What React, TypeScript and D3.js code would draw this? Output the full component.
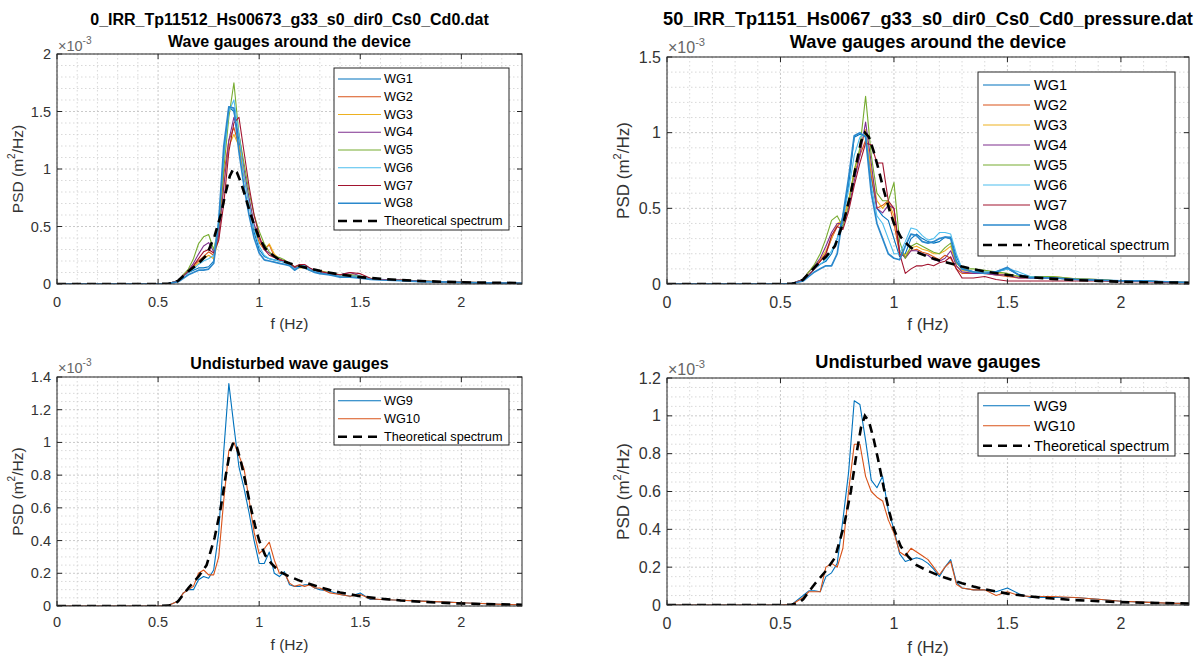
import React from 'react';
import * as d3 from 'd3';

// ---------- DATA (PSD values in units of 1e-3 m^2/Hz) ----------
const FREQ = [0, 0.5, 0.55, 0.6, 0.625,
  0.65, 0.675, 0.7, 0.725, 0.75,
  0.775, 0.8, 0.825, 0.85, 0.875,
  0.9, 0.925, 0.95, 0.975, 1.0,
  1.025, 1.05, 1.075, 1.1, 1.125,
  1.15, 1.175, 1.2, 1.225, 1.25,
  1.275, 1.3, 1.35, 1.4, 1.45,
  1.5, 1.55, 1.6, 1.7, 1.8,
  1.9, 2.0, 2.1, 2.2, 2.3];

const THEO_F = [0, 0.5, 0.55, 0.58, 0.6, 0.625, 0.65, 0.7, 0.74, 0.78, 0.81, 0.835, 0.855, 0.872, 0.89,
  0.91, 0.93, 0.955, 0.98, 1.0, 1.03, 1.06, 1.1, 1.15, 1.2, 1.25, 1.3, 1.35, 1.4, 1.5, 1.6, 1.7, 1.8, 1.9, 2.0, 2.1, 2.2, 2.3];
const THEO_PSD = [0, 0, 0.002, 0.01, 0.03, 0.07, 0.11, 0.18, 0.25, 0.42, 0.6, 0.8, 0.94, 1.0, 0.97,
  0.88, 0.77, 0.62, 0.49, 0.4, 0.31, 0.26, 0.21, 0.18, 0.155, 0.135, 0.115, 0.098, 0.083, 0.06, 0.045, 0.034, 0.026, 0.02, 0.015, 0.012, 0.01, 0.008];

// Top-left: 0_IRR_Tp11512_Hs00673 — WG1..WG8
const TL_WG1 = [0, 0, 0.003, 0.03, 0.07, 0.1, 0.12, 0.14, 0.14, 0.15, 0.2, 0.5, 1.1, 1.54, 1.5, 1.25, 0.95, 0.7, 0.45, 0.3, 0.24, 0.22, 0.21, 0.2, 0.19, 0.17, 0.13, 0.16, 0.16, 0.14, 0.11, 0.1, 0.08, 0.07, 0.07, 0.06, 0.04, 0.04, 0.03, 0.02, 0.018, 0.013, 0.01, 0.008, 0.006];
const TL_WG2 = [0, 0, 0.003, 0.03, 0.08, 0.12, 0.16, 0.2, 0.24, 0.28, 0.25, 0.45, 0.95, 1.25, 1.36, 1.2, 0.95, 0.72, 0.5, 0.36, 0.3, 0.34, 0.24, 0.21, 0.2, 0.18, 0.14, 0.15, 0.15, 0.12, 0.12, 0.11, 0.08, 0.07, 0.08, 0.07, 0.045, 0.04, 0.035, 0.025, 0.02, 0.015, 0.012, 0.009, 0.007];
const TL_WG3 = [0, 0, 0.003, 0.03, 0.08, 0.12, 0.15, 0.18, 0.22, 0.25, 0.22, 0.4, 0.85, 1.2, 1.3, 1.2, 0.95, 0.72, 0.5, 0.38, 0.3, 0.35, 0.26, 0.22, 0.2, 0.17, 0.13, 0.14, 0.14, 0.12, 0.11, 0.12, 0.09, 0.07, 0.06, 0.06, 0.05, 0.04, 0.035, 0.025, 0.02, 0.015, 0.012, 0.009, 0.007];
const TL_WG4 = [0, 0, 0.003, 0.03, 0.08, 0.12, 0.18, 0.26, 0.33, 0.36, 0.28, 0.42, 0.85, 1.25, 1.45, 1.3, 1.0, 0.75, 0.52, 0.4, 0.3, 0.27, 0.24, 0.22, 0.2, 0.18, 0.14, 0.16, 0.15, 0.13, 0.11, 0.1, 0.09, 0.08, 0.1, 0.07, 0.045, 0.04, 0.035, 0.025, 0.02, 0.015, 0.012, 0.009, 0.007];
const TL_WG5 = [0, 0, 0.003, 0.03, 0.08, 0.13, 0.22, 0.35, 0.41, 0.43, 0.3, 0.5, 1.0, 1.45, 1.75, 1.3, 1.05, 0.8, 0.6, 0.46, 0.35, 0.28, 0.24, 0.23, 0.21, 0.18, 0.15, 0.16, 0.15, 0.12, 0.12, 0.11, 0.1, 0.08, 0.08, 0.07, 0.05, 0.04, 0.035, 0.028, 0.02, 0.015, 0.012, 0.009, 0.007];
const TL_WG6 = [0, 0, 0.003, 0.03, 0.07, 0.1, 0.13, 0.17, 0.2, 0.22, 0.25, 0.55, 1.1, 1.5, 1.6, 1.3, 0.95, 0.7, 0.48, 0.33, 0.25, 0.22, 0.21, 0.2, 0.19, 0.17, 0.13, 0.15, 0.16, 0.13, 0.11, 0.1, 0.09, 0.07, 0.07, 0.07, 0.05, 0.04, 0.03, 0.025, 0.02, 0.015, 0.012, 0.009, 0.007];
const TL_WG7 = [0, 0, 0.003, 0.03, 0.07, 0.11, 0.16, 0.22, 0.28, 0.3, 0.27, 0.38, 0.7, 1.15, 1.4, 1.45, 1.15, 0.85, 0.6, 0.42, 0.3, 0.25, 0.23, 0.21, 0.2, 0.18, 0.15, 0.17, 0.17, 0.14, 0.12, 0.11, 0.09, 0.08, 0.1, 0.09, 0.05, 0.04, 0.035, 0.025, 0.02, 0.015, 0.012, 0.009, 0.007];
const TL_WG8 = [0, 0, 0.003, 0.02, 0.05, 0.08, 0.1, 0.12, 0.12, 0.13, 0.18, 0.55, 1.2, 1.54, 1.53, 1.15, 0.85, 0.6, 0.4, 0.27, 0.21, 0.2, 0.19, 0.18, 0.17, 0.16, 0.12, 0.15, 0.14, 0.12, 0.1, 0.09, 0.08, 0.06, 0.06, 0.05, 0.04, 0.035, 0.03, 0.02, 0.018, 0.013, 0.01, 0.008, 0.006];

// Top-right: 50_IRR_Tp1151_Hs0067 — WG1..WG8
const TR_WG1 = [0, 0, 0.003, 0.03, 0.06, 0.1, 0.13, 0.15, 0.2, 0.3, 0.45, 0.65, 0.97, 0.99, 0.98, 0.7, 0.5, 0.45, 0.42, 0.3, 0.18, 0.2, 0.3, 0.33, 0.3, 0.28, 0.27, 0.28, 0.31, 0.31, 0.18, 0.1, 0.08, 0.07, 0.08, 0.1, 0.06, 0.05, 0.04, 0.035, 0.03, 0.02, 0.02, 0.015, 0.01];
const TR_WG2 = [0, 0, 0.003, 0.03, 0.08, 0.12, 0.15, 0.2, 0.3, 0.38, 0.42, 0.55, 0.72, 0.85, 0.95, 0.72, 0.5, 0.52, 0.55, 0.4, 0.2, 0.18, 0.22, 0.23, 0.21, 0.2, 0.18, 0.16, 0.19, 0.17, 0.1, 0.07, 0.07, 0.07, 0.06, 0.05, 0.04, 0.04, 0.04, 0.03, 0.025, 0.02, 0.02, 0.015, 0.01];
const TR_WG3 = [0, 0, 0.003, 0.03, 0.08, 0.12, 0.16, 0.22, 0.3, 0.4, 0.42, 0.55, 0.75, 0.88, 1.02, 0.75, 0.55, 0.5, 0.55, 0.45, 0.22, 0.19, 0.24, 0.25, 0.23, 0.22, 0.2, 0.2, 0.22, 0.25, 0.12, 0.09, 0.08, 0.08, 0.07, 0.06, 0.05, 0.05, 0.05, 0.035, 0.03, 0.02, 0.02, 0.015, 0.01];
const TR_WG4 = [0, 0, 0.003, 0.03, 0.08, 0.12, 0.17, 0.25, 0.34, 0.4, 0.4, 0.5, 0.68, 0.85, 1.07, 0.8, 0.5, 0.47, 0.52, 0.5, 0.22, 0.17, 0.22, 0.22, 0.2, 0.19, 0.16, 0.15, 0.17, 0.22, 0.12, 0.08, 0.07, 0.07, 0.06, 0.06, 0.04, 0.04, 0.04, 0.03, 0.025, 0.02, 0.02, 0.015, 0.01];
const TR_WG5 = [0, 0, 0.003, 0.03, 0.08, 0.13, 0.2, 0.3, 0.42, 0.45, 0.38, 0.52, 0.75, 0.9, 1.24, 0.85, 0.6, 0.55, 0.55, 0.67, 0.28, 0.17, 0.25, 0.27, 0.25, 0.23, 0.21, 0.2, 0.24, 0.27, 0.14, 0.1, 0.1, 0.09, 0.08, 0.07, 0.05, 0.05, 0.05, 0.035, 0.03, 0.02, 0.02, 0.015, 0.01];
const TR_WG6 = [0, 0, 0.003, 0.03, 0.06, 0.1, 0.13, 0.16, 0.22, 0.3, 0.42, 0.62, 0.85, 0.97, 1.0, 0.65, 0.45, 0.4, 0.3, 0.2, 0.2, 0.28, 0.37, 0.36, 0.32, 0.29, 0.3, 0.34, 0.34, 0.33, 0.2, 0.1, 0.08, 0.08, 0.08, 0.1, 0.08, 0.05, 0.04, 0.03, 0.025, 0.02, 0.02, 0.015, 0.01];
const TR_WG7 = [0, 0, 0.003, 0.03, 0.06, 0.1, 0.15, 0.2, 0.32, 0.38, 0.36, 0.48, 0.65, 0.8, 0.93, 0.92, 0.8, 0.8, 0.55, 0.5, 0.2, 0.07, 0.1, 0.12, 0.12, 0.13, 0.12, 0.14, 0.15, 0.18, 0.1, 0.04, 0.04, 0.05, 0.03, 0.02, 0.02, 0.02, 0.02, 0.02, 0.02, 0.015, 0.015, 0.01, 0.008];
const TR_WG8 = [0, 0, 0.003, 0.02, 0.05, 0.08, 0.1, 0.12, 0.12, 0.2, 0.45, 0.7, 0.98, 1.0, 0.97, 0.6, 0.4, 0.3, 0.2, 0.17, 0.16, 0.25, 0.33, 0.32, 0.28, 0.27, 0.28, 0.3, 0.31, 0.3, 0.15, 0.1, 0.08, 0.07, 0.08, 0.11, 0.06, 0.04, 0.04, 0.03, 0.025, 0.02, 0.02, 0.015, 0.01];

// Bottom-left: undisturbed WG9, WG10
const BL_WG9 = [0, 0, 0.003, 0.03, 0.08, 0.1, 0.1, 0.16, 0.18, 0.17, 0.22, 0.45, 0.95, 1.36, 1.1, 0.85, 0.72, 0.57, 0.4, 0.26, 0.26, 0.33, 0.2, 0.18, 0.21, 0.13, 0.12, 0.12, 0.13, 0.13, 0.11, 0.1, 0.09, 0.07, 0.06, 0.08, 0.04, 0.04, 0.035, 0.03, 0.025, 0.02, 0.015, 0.01, 0.008];
const BL_WG10 = [0, 0, 0.003, 0.03, 0.08, 0.1, 0.12, 0.2, 0.22, 0.19, 0.19, 0.3, 0.65, 0.95, 1.0, 0.92, 0.84, 0.65, 0.45, 0.32, 0.35, 0.39, 0.28, 0.2, 0.2, 0.14, 0.12, 0.13, 0.12, 0.13, 0.11, 0.11, 0.08, 0.07, 0.06, 0.07, 0.045, 0.04, 0.035, 0.03, 0.025, 0.02, 0.015, 0.01, 0.008];

// Bottom-right: undisturbed WG9, WG10
const BR_WG9 = [0, 0, 0.003, 0.05, 0.075, 0.075, 0.07, 0.15, 0.17, 0.22, 0.45, 0.7, 1.08, 1.06, 0.87, 0.66, 0.62, 0.68, 0.5, 0.4, 0.27, 0.23, 0.24, 0.25, 0.24, 0.22, 0.19, 0.15, 0.2, 0.24, 0.12, 0.09, 0.08, 0.08, 0.07, 0.09, 0.06, 0.04, 0.04, 0.04, 0.03, 0.02, 0.015, 0.01, 0.008];
const BR_WG10 = [0, 0, 0.003, 0.04, 0.07, 0.07, 0.07, 0.2, 0.22, 0.2, 0.3, 0.6, 0.85, 0.85, 0.68, 0.6, 0.57, 0.55, 0.45, 0.38, 0.28, 0.26, 0.3, 0.28, 0.26, 0.24, 0.2, 0.16, 0.2, 0.23, 0.11, 0.09, 0.08, 0.08, 0.05, 0.07, 0.05, 0.045, 0.045, 0.04, 0.03, 0.02, 0.015, 0.01, 0.008];

const TOP_NAMES = ['WG1', 'WG2', 'WG3', 'WG4', 'WG5', 'WG6', 'WG7', 'WG8'];
const BOTTOM_NAMES = ['WG9', 'WG10'];
const THEO_NAME = 'Theoretical spectrum';
const TOP_COLORS = ['#0072BD', '#D95319', '#EDB120', '#7E2F8E', '#77AC30', '#4DBEEE', '#A2142F', '#2a88cc'];
const BOTTOM_COLORS = ['#0072BD', '#D95319'];

const X_TICKS = [0, 0.5, 1, 1.5, 2];
const TL_Y_TICKS = [0, 0.5, 1, 1.5, 2];
const TR_Y_TICKS = [0, 0.5, 1, 1.5];
const BL_Y_TICKS = [0, 0.2, 0.4, 0.6, 0.8, 1, 1.2, 1.4];
const BR_Y_TICKS = [0, 0.2, 0.4, 0.6, 0.8, 1, 1.2];

const FILE_LEFT = '0_IRR_Tp11512_Hs00673_g33_s0_dir0_Cs0_Cd0.dat';
const FILE_RIGHT = '50_IRR_Tp1151_Hs0067_g33_s0_dir0_Cs0_Cd0_pressure.dat';
const SUB_TOP = 'Wave gauges around the device';
const SUB_BOTTOM = 'Undisturbed wave gauges';

// ---------- RENDERING ----------
const FONT = '"Liberation Sans", Arial, Helvetica, sans-serif';
const AX = '#262626';
const TXT = '#333';

type Box = { x0: number; x1: number; y0: number; y1: number };
type Legend = { x0: number; x1: number; y0: number; y1: number; firstRow: number; step: number; lx0: number; lx1: number; tx: number; fs: number };

interface PanelProps {
  id: string;
  box: Box;
  yMax: number;
  yTicks: number[];
  yMinor: number;
  series: number[][];
  names: string[];
  colors: string[];
  titles: { text: string; y: number }[];
  titleSize: number;
  tickSize: number;
  labelSize: number;
  tickLabelY: number;
  xLabelY: number;
  yLabelX: number;
  expY: number;
  legend: Legend;
}

function Panel(p: PanelProps) {
  const { box } = p;
  const x = d3.scaleLinear().domain([0, 2.3]).range([box.x0, box.x1]);
  const y = d3.scaleLinear().domain([0, p.yMax]).range([box.y1, box.y0]);
  const line = d3.line<[number, number]>().x((d) => x(d[0])).y((d) => y(d[1]));
  const xMinor = d3.range(1, 23).map((i) => i / 10).filter((v) => Math.abs(v * 2 - Math.round(v * 2)) > 1e-6);
  const nMinorY = Math.round(p.yMax / p.yMinor);
  const yMinorVals = d3.range(1, nMinorY).map((i) => i * p.yMinor).filter((v) => !p.yTicks.some((t) => Math.abs(t - v) < 1e-6));
  const cx = (box.x0 + box.x1) / 2;
  const cy = (box.y0 + box.y1) / 2;
  const tl = 5;
  const lg = p.legend;
  const isWide = p.names.length > 2;

  return (
    <g fontFamily={FONT}>
      <defs>
        <clipPath id={`clip-${p.id}`}>
          <rect x={box.x0} y={box.y0} width={box.x1 - box.x0} height={box.y1 - box.y0} />
        </clipPath>
      </defs>
      <rect x={box.x0} y={box.y0} width={box.x1 - box.x0} height={box.y1 - box.y0} fill="#fff" />
      {/* minor grid */}
      {xMinor.map((v) => (
        <line key={`xm${v}`} x1={x(v)} x2={x(v)} y1={box.y0} y2={box.y1} stroke="#cfcfcf" strokeWidth={0.8} strokeDasharray="1.5,2.5" />
      ))}
      {yMinorVals.map((v) => (
        <line key={`ym${v}`} x1={box.x0} x2={box.x1} y1={y(v)} y2={y(v)} stroke="#cfcfcf" strokeWidth={0.8} strokeDasharray="1.5,2.5" />
      ))}
      {/* major grid */}
      {X_TICKS.map((v) => (
        <line key={`xg${v}`} x1={x(v)} x2={x(v)} y1={box.y0} y2={box.y1} stroke="#c4c4c4" strokeWidth={0.9} strokeDasharray="2,2" />
      ))}
      {p.yTicks.map((v) => (
        <line key={`yg${v}`} x1={box.x0} x2={box.x1} y1={y(v)} y2={y(v)} stroke="#c4c4c4" strokeWidth={0.9} strokeDasharray="2,2" />
      ))}
      {/* data */}
      <g clipPath={`url(#clip-${p.id})`}>
        {p.series.map((vals, i) => (
          <path
            key={p.names[i]}
            d={line(FREQ.map((f, j) => [f, vals[j]] as [number, number])) || ''}
            fill="none"
            stroke={p.colors[i]}
            strokeWidth={isWide && i === 7 ? 1.7 : 1.1}
            strokeLinejoin="round"
          />
        ))}
        <path
          d={line(THEO_F.map((f, j) => [f, THEO_PSD[j]] as [number, number])) || ''}
          fill="none"
          stroke="#000"
          strokeWidth={2.6}
          strokeDasharray="9,6"
        />
      </g>
      {/* box and ticks */}
      <rect x={box.x0} y={box.y0} width={box.x1 - box.x0} height={box.y1 - box.y0} fill="none" stroke={AX} strokeWidth={1} />
      {X_TICKS.map((v) => (
        <g key={`xt${v}`}>
          <line x1={x(v)} x2={x(v)} y1={box.y1} y2={box.y1 - tl} stroke={AX} />
          <line x1={x(v)} x2={x(v)} y1={box.y0} y2={box.y0 + tl} stroke={AX} />
          <text x={x(v)} y={p.tickLabelY} textAnchor="middle" dominantBaseline="central" fontSize={p.tickSize} fill={TXT}>
            {String(v)}
          </text>
        </g>
      ))}
      {p.yTicks.map((v) => (
        <g key={`yt${v}`}>
          <line x1={box.x0} x2={box.x0 + tl} y1={y(v)} y2={y(v)} stroke={AX} />
          <line x1={box.x1} x2={box.x1 - tl} y1={y(v)} y2={y(v)} stroke={AX} />
          <text x={box.x0 - 6} y={y(v)} textAnchor="end" dominantBaseline="central" fontSize={p.tickSize} fill={TXT}>
            {String(v)}
          </text>
        </g>
      ))}
      {/* exponent */}
      <text x={box.x0 + 1} y={p.expY} fontSize={p.tickSize} fill="#666">
        ×10<tspan dy={-7} fontSize={p.tickSize * 0.7}>-3</tspan>
      </text>
      {/* axis labels */}
      <text x={cx} y={p.xLabelY} textAnchor="middle" dominantBaseline="central" fontSize={p.labelSize} fill={TXT}>
        f (Hz)
      </text>
      <text
        transform={`translate(${p.yLabelX},${cy}) rotate(-90)`}
        textAnchor="middle"
        dominantBaseline="central"
        fontSize={p.labelSize}
        fill={TXT}
      >
        PSD (m<tspan dy={-6} fontSize={p.labelSize * 0.65}>2</tspan>
        <tspan dy={6}>/Hz)</tspan>
      </text>
      {/* titles */}
      {p.titles.map((t) => (
        <text key={t.text} x={cx} y={t.y} textAnchor="middle" dominantBaseline="central" fontSize={p.titleSize} fontWeight="bold" fill="#000">
          {t.text}
        </text>
      ))}
      {/* legend */}
      <rect x={lg.x0} y={lg.y0} width={lg.x1 - lg.x0} height={lg.y1 - lg.y0} fill="#fff" stroke={AX} strokeWidth={1} />
      {[...p.names, THEO_NAME].map((n, i) => {
        const ry = lg.firstRow + i * lg.step;
        const isTheo = i === p.names.length;
        return (
          <g key={`lg${n}`}>
            <line
              x1={lg.lx0}
              x2={lg.lx1}
              y1={ry}
              y2={ry}
              stroke={isTheo ? '#000' : p.colors[i]}
              strokeWidth={isTheo ? 2.6 : isWide && i === 7 ? 1.7 : 1.1}
              strokeDasharray={isTheo ? '9,6' : undefined}
            />
            <text x={lg.tx} y={ry} dominantBaseline="central" fontSize={lg.fs} fill="#000">
              {n}
            </text>
          </g>
        );
      })}
    </g>
  );
}

export default function App() {
  const leftSizes = { titleSize: 16, tickSize: 14.5, labelSize: 15.5 };
  const rightSizes = { titleSize: 18.2, tickSize: 16, labelSize: 17 };
  return (
    <svg width={1200} height={658} style={{ position: 'absolute', left: 0, top: 0, background: '#fff' }}>
      <rect x={0} y={0} width={1200} height={658} fill="#fff" />
      <Panel
        id="tl"
        box={{ x0: 57, x1: 522, y0: 54, y1: 284 }}
        yMax={2}
        yTicks={TL_Y_TICKS}
        yMinor={0.1}
        series={[TL_WG1, TL_WG2, TL_WG3, TL_WG4, TL_WG5, TL_WG6, TL_WG7, TL_WG8]}
        names={TOP_NAMES}
        colors={TOP_COLORS}
        titles={[{ text: FILE_LEFT, y: 19 }, { text: SUB_TOP, y: 41 }]}
        {...leftSizes}
        tickLabelY={302}
        xLabelY={323}
        yLabelX={17}
        expY={51}
        legend={{ x0: 334, x1: 509, y0: 68, y1: 230, firstRow: 79, step: 17.75, lx0: 338, lx1: 381, tx: 384, fs: 12.7 }}
      />
      <Panel
        id="tr"
        box={{ x0: 667, x1: 1189, y0: 57, y1: 284 }}
        yMax={1.5}
        yTicks={TR_Y_TICKS}
        yMinor={0.1}
        series={[TR_WG1, TR_WG2, TR_WG3, TR_WG4, TR_WG5, TR_WG6, TR_WG7, TR_WG8]}
        names={TOP_NAMES}
        colors={TOP_COLORS}
        titles={[{ text: FILE_RIGHT, y: 19 }, { text: SUB_TOP, y: 42 }]}
        {...rightSizes}
        tickLabelY={302}
        xLabelY={324}
        yLabelX={623}
        expY={53}
        legend={{ x0: 978, x1: 1175, y0: 72, y1: 256, firstRow: 85, step: 20, lx0: 983, lx1: 1030, tx: 1034, fs: 14.5 }}
      />
      <Panel
        id="bl"
        box={{ x0: 57, x1: 522, y0: 377, y1: 606 }}
        yMax={1.4}
        yTicks={BL_Y_TICKS}
        yMinor={0.05}
        series={[BL_WG9, BL_WG10]}
        names={BOTTOM_NAMES}
        colors={BOTTOM_COLORS}
        titles={[{ text: SUB_BOTTOM, y: 363 }]}
        {...leftSizes}
        tickLabelY={622}
        xLabelY={644}
        yLabelX={17}
        expY={373}
        legend={{ x0: 334, x1: 509, y0: 389, y1: 445, firstRow: 400.7, step: 18, lx0: 338, lx1: 381, tx: 384, fs: 12.7 }}
      />
      <Panel
        id="br"
        box={{ x0: 667, x1: 1189, y0: 378, y1: 605 }}
        yMax={1.2}
        yTicks={BR_Y_TICKS}
        yMinor={0.05}
        series={[BR_WG9, BR_WG10]}
        names={BOTTOM_NAMES}
        colors={BOTTOM_COLORS}
        titles={[{ text: SUB_BOTTOM, y: 362 }]}
        {...rightSizes}
        tickLabelY={623}
        xLabelY={647}
        yLabelX={623}
        expY={375}
        legend={{ x0: 978, x1: 1175, y0: 393, y1: 456, firstRow: 405.7, step: 20, lx0: 983, lx1: 1030, tx: 1034, fs: 14.5 }}
      />
    </svg>
  );
}
